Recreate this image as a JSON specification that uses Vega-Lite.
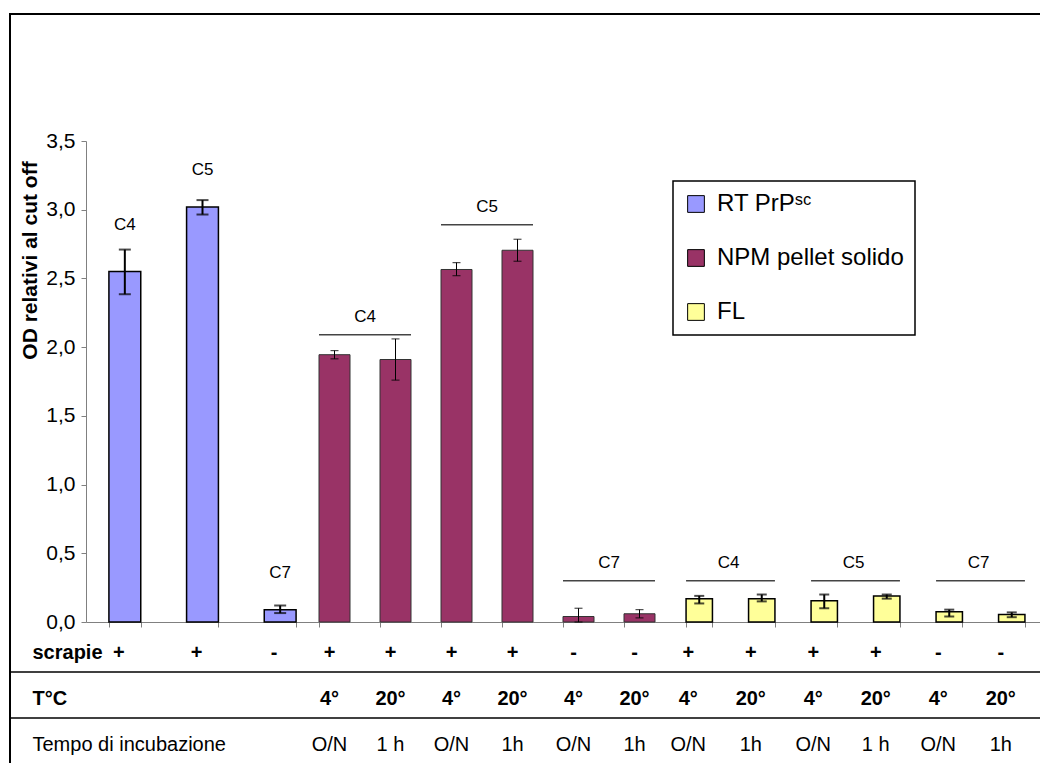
{
  "$schema": "https://vega.github.io/schema/vega-lite/v6.json",
  "width": 1031,
  "height": 750,
  "autosize": {"type": "none"},
  "padding": {"left": 10, "top": 14, "right": -1, "bottom": -1},
  "background": "white",
  "config": {
    "view": {"stroke": "black", "strokeWidth": 2},
    "font": "Liberation Sans",
    "axis": {"grid": false, "domainColor": "#808080", "tickColor": "#808080", "labelColor": "black", "titleColor": "black"},
    "legend": {
      "strokeColor": "black", "strokeWidth": 1.5, "fillColor": "white", "padding": 11,
      "symbolType": "square", "symbolSize": 280, "symbolStrokeColor": "black", "symbolStrokeWidth": 1,
      "labelFont": "Liberation Sans", "labelFontSize": 24, "labelColor": "black", "labelLimit": 400,
      "rowPadding": 30, "labelOffset": 9
    }
  },
  "datasets": {
    "bars": [
      {"col": 1, "series": "RT PrPˢᶜ", "value": 2.55, "lo": 2.385, "hi": 2.71, "scrapie": "+", "temp": "", "tempo": ""},
      {"col": 2, "series": "RT PrPˢᶜ", "value": 3.02, "lo": 2.965, "hi": 3.07, "scrapie": "+", "temp": "", "tempo": ""},
      {"col": 3, "series": "RT PrPˢᶜ", "value": 0.09, "lo": 0.065, "hi": 0.12, "scrapie": "-", "temp": "", "tempo": ""},
      {"col": 4, "series": "NPM pellet solido", "value": 1.945, "lo": 1.915, "hi": 1.975, "scrapie": "+", "temp": "4°", "tempo": "O/N"},
      {"col": 5, "series": "NPM pellet solido", "value": 1.91, "lo": 1.76, "hi": 2.06, "scrapie": "+", "temp": "20°", "tempo": "1 h"},
      {"col": 6, "series": "NPM pellet solido", "value": 2.565, "lo": 2.52, "hi": 2.615, "scrapie": "+", "temp": "4°", "tempo": "O/N"},
      {"col": 7, "series": "NPM pellet solido", "value": 2.705, "lo": 2.625, "hi": 2.785, "scrapie": "+", "temp": "20°", "tempo": "1h"},
      {"col": 8, "series": "NPM pellet solido", "value": 0.04, "lo": 0.0, "hi": 0.1, "scrapie": "-", "temp": "4°", "tempo": "O/N"},
      {"col": 9, "series": "NPM pellet solido", "value": 0.06, "lo": 0.03, "hi": 0.09, "scrapie": "-", "temp": "20°", "tempo": "1h"},
      {"col": 10, "series": "FL", "value": 0.17, "lo": 0.135, "hi": 0.19, "scrapie": "+", "temp": "4°", "tempo": "O/N"},
      {"col": 11, "series": "FL", "value": 0.17, "lo": 0.15, "hi": 0.2, "scrapie": "+", "temp": "20°", "tempo": "1h"},
      {"col": 12, "series": "FL", "value": 0.155, "lo": 0.1, "hi": 0.2, "scrapie": "+", "temp": "4°", "tempo": "O/N"},
      {"col": 13, "series": "FL", "value": 0.19, "lo": 0.17, "hi": 0.2, "scrapie": "+", "temp": "20°", "tempo": "1 h"},
      {"col": 14, "series": "FL", "value": 0.075, "lo": 0.04, "hi": 0.09, "scrapie": "-", "temp": "4°", "tempo": "O/N"},
      {"col": 15, "series": "FL", "value": 0.055, "lo": 0.035, "hi": 0.07, "scrapie": "-", "temp": "20°", "tempo": "1h"}
    ],
    "groups": [
      {"series": "RT PrPˢᶜ", "a": 1, "b": 1, "label": "C4", "ly": 2.89},
      {"series": "RT PrPˢᶜ", "a": 2, "b": 2, "label": "C5", "ly": 3.29},
      {"series": "RT PrPˢᶜ", "a": 3, "b": 3, "label": "C7", "ly": 0.36},
      {"series": "NPM pellet solido", "a": 4, "b": 5, "label": "C4", "ly": 2.09},
      {"series": "NPM pellet solido", "a": 6, "b": 7, "label": "C5", "ly": 2.89},
      {"series": "NPM pellet solido", "a": 8, "b": 9, "label": "C7", "ly": 0.3},
      {"series": "FL", "a": 10, "b": 11, "label": "C4", "ly": 0.3},
      {"series": "FL", "a": 12, "b": 13, "label": "C5", "ly": 0.3},
      {"series": "FL", "a": 14, "b": 15, "label": "C7", "ly": 0.3}
    ],
    "tableLines": [{"row": "temp"}, {"row": "tempo"}]
  },
  "layer": [
    {
      "data": {"name": "bars"},
      "transform": [{"filter": "datum.series === 'RT PrPˢᶜ'"}],
      "mark": {"type": "bar", "stroke": "black", "strokeWidth": 1.5},
      "encoding": {
        "x": {"field": "col", "type": "ordinal", "scale": {"type": "band", "domain": [1, 2, 3], "range": [76, 309], "paddingInner": 0.59, "paddingOuter": 0.295},
          "axis": {"orient": "bottom", "offset": -142, "labels": false, "tickBand": "extent", "tickSize": 5, "title": null}},
        "y": {"field": "value", "type": "quantitative", "scale": {"domain": [0, 3.5], "range": [608, 127], "nice": false},
          "axis": {"orient": "left", "offset": -76, "values": [0, 0.5, 1, 1.5, 2, 2.5, 3, 3.5],
            "labelExpr": "replace(format(datum.value, '.1f'), '.', ',')",
            "tickSize": 5, "labelPadding": 6, "labelFont": "Liberation Sans", "labelFontSize": 21,
            "title": "OD relativi al cut off", "titleFont": "Liberation Sans", "titleFontSize": 21, "titleFontWeight": "bold",
            "titlePadding": 5, "titleY": 246}},
        "color": {"field": "series", "type": "nominal",
          "scale": {"domain": ["RT PrPˢᶜ", "NPM pellet solido", "FL"], "range": ["#9999FF", "#993366", "#FFFF99"]},
          "legend": {"title": null, "orient": "none", "legendX": 663, "legendY": 167}}
      }
    },
    {
      "data": {"name": "bars"},
      "transform": [{"filter": "datum.series === 'RT PrPˢᶜ'"}],
      "mark": {"type": "rule", "color": "black", "strokeWidth": 2},
      "encoding": {
        "x": {"field": "col", "type": "ordinal", "scale": {"type": "band", "domain": [1, 2, 3], "range": [76, 309], "paddingInner": 0.59, "paddingOuter": 0.295}, "axis": null},
        "y": {"field": "lo", "type": "quantitative", "scale": {"domain": [0, 3.5], "range": [608, 127], "nice": false}, "axis": null},
        "y2": {"field": "hi"}
      }
    },
    {
      "data": {"name": "bars"},
      "transform": [{"filter": "datum.series === 'RT PrPˢᶜ'"}, {"fold": ["lo", "hi"], "as": ["end", "v"]}],
      "mark": {"type": "tick", "color": "black", "thickness": 2, "size": 12},
      "encoding": {
        "x": {"field": "col", "type": "ordinal", "scale": {"type": "band", "domain": [1, 2, 3], "range": [76, 309], "paddingInner": 0.59, "paddingOuter": 0.295}, "axis": null},
        "y": {"field": "v", "type": "quantitative", "scale": {"domain": [0, 3.5], "range": [608, 127], "nice": false}, "axis": null}
      }
    },
    {
      "data": {"name": "groups"},
      "transform": [{"filter": "datum.series === 'RT PrPˢᶜ'"}],
      "mark": {"type": "text", "fontSize": 17, "color": "black"},
      "encoding": {
        "x": {"field": "a", "type": "ordinal", "scale": {"type": "band", "domain": [1, 2, 3], "range": [76, 309], "paddingInner": 0.59, "paddingOuter": 0.295}, "axis": null},
        "y": {"field": "ly", "type": "quantitative", "scale": {"domain": [0, 3.5], "range": [608, 127], "nice": false}, "axis": null},
        "text": {"field": "label"}
      }
    },
    {
      "data": {"name": "bars"},
      "transform": [{"filter": "datum.series === 'RT PrPˢᶜ'"}, {"fold": ["scrapie"], "as": ["row", "txt"]}],
      "mark": {"type": "text", "fontSize": 20, "fontWeight": "bold", "color": "black", "xOffset": -6},
      "encoding": {
        "x": {"field": "col", "type": "ordinal", "scale": {"type": "band", "domain": [1, 2, 3], "range": [76, 309], "paddingInner": 0.59, "paddingOuter": 0.295}, "axis": null},
        "y": {"field": "row", "type": "nominal", "scale": {"type": "band", "domain": ["scrapie", "temp", "tempo"], "range": [616, 754], "paddingInner": 0, "paddingOuter": 0}, "axis": null},
        "text": {"field": "txt"}
      }
    },
    {
      "data": {"name": "bars"},
      "transform": [{"filter": "datum.series === 'NPM pellet solido'"}],
      "mark": {"type": "bar", "stroke": "#333333", "strokeWidth": 1},
      "encoding": {
        "x": {"field": "col", "type": "ordinal", "scale": {"type": "band", "domain": [4, 5, 6, 7, 8, 9], "range": [309, 675], "paddingInner": 0.4918, "paddingOuter": 0.2459, "align": 0},
          "axis": {"orient": "bottom", "offset": -142, "labels": false, "bandPosition": 0, "tickSize": 5, "title": null}},
        "y": {"field": "value", "type": "quantitative", "scale": {"domain": [0, 3.5], "range": [608, 127], "nice": false}, "axis": null},
        "color": {"field": "series", "type": "nominal",
          "scale": {"domain": ["RT PrPˢᶜ", "NPM pellet solido", "FL"], "range": ["#9999FF", "#993366", "#FFFF99"]},
          "legend": {"title": null, "orient": "none", "legendX": 663, "legendY": 167}}
      }
    },
    {
      "data": {"name": "bars"},
      "transform": [{"filter": "datum.series === 'NPM pellet solido'"}],
      "mark": {"type": "rule", "color": "black", "strokeWidth": 1},
      "encoding": {
        "x": {"field": "col", "type": "ordinal", "scale": {"type": "band", "domain": [4, 5, 6, 7, 8, 9], "range": [309, 675], "paddingInner": 0.4918, "paddingOuter": 0.2459, "align": 0}, "axis": null},
        "y": {"field": "lo", "type": "quantitative", "scale": {"domain": [0, 3.5], "range": [608, 127], "nice": false}, "axis": null},
        "y2": {"field": "hi"}
      }
    },
    {
      "data": {"name": "bars"},
      "transform": [{"filter": "datum.series === 'NPM pellet solido'"}, {"fold": ["lo", "hi"], "as": ["end", "v"]}],
      "mark": {"type": "tick", "color": "black", "thickness": 1.2, "size": 8},
      "encoding": {
        "x": {"field": "col", "type": "ordinal", "scale": {"type": "band", "domain": [4, 5, 6, 7, 8, 9], "range": [309, 675], "paddingInner": 0.4918, "paddingOuter": 0.2459, "align": 0}, "axis": null},
        "y": {"field": "v", "type": "quantitative", "scale": {"domain": [0, 3.5], "range": [608, 127], "nice": false}, "axis": null}
      }
    },
    {
      "data": {"name": "groups"},
      "transform": [{"filter": "datum.series === 'NPM pellet solido'"}],
      "mark": {"type": "rule", "color": "#444444", "strokeWidth": 1.5},
      "encoding": {
        "x": {"field": "a", "type": "ordinal", "bandPosition": 0, "scale": {"type": "band", "domain": [4, 5, 6, 7, 8, 9], "range": [309, 675], "paddingInner": 0.4918, "paddingOuter": 0.2459, "align": 0}, "axis": null},
        "x2": {"field": "b", "bandPosition": 1},
        "y": {"field": "ly", "type": "quantitative", "scale": {"domain": [0, 3.5], "range": [608, 127], "nice": false}, "axis": null}
      }
    },
    {
      "data": {"name": "groups"},
      "transform": [{"filter": "datum.series === 'NPM pellet solido'"}],
      "mark": {"type": "text", "fontSize": 17, "color": "black", "dy": -18, "xOffset": -15},
      "encoding": {
        "x": {"field": "b", "type": "ordinal", "bandPosition": 0, "scale": {"type": "band", "domain": [4, 5, 6, 7, 8, 9], "range": [309, 675], "paddingInner": 0.4918, "paddingOuter": 0.2459, "align": 0}, "axis": null},
        "y": {"field": "ly", "type": "quantitative", "scale": {"domain": [0, 3.5], "range": [608, 127], "nice": false}, "axis": null},
        "text": {"field": "label"}
      }
    },
    {
      "data": {"name": "bars"},
      "transform": [{"filter": "datum.series === 'NPM pellet solido'"}, {"fold": ["scrapie", "temp"], "as": ["row", "txt"]}],
      "mark": {"type": "text", "fontSize": 20, "fontWeight": "bold", "color": "black", "xOffset": -5},
      "encoding": {
        "x": {"field": "col", "type": "ordinal", "scale": {"type": "band", "domain": [4, 5, 6, 7, 8, 9], "range": [309, 675], "paddingInner": 0.4918, "paddingOuter": 0.2459, "align": 0}, "axis": null},
        "y": {"field": "row", "type": "nominal", "scale": {"type": "band", "domain": ["scrapie", "temp", "tempo"], "range": [616, 754], "paddingInner": 0, "paddingOuter": 0}, "axis": null},
        "text": {"field": "txt"}
      }
    },
    {
      "data": {"name": "bars"},
      "transform": [{"filter": "datum.series === 'NPM pellet solido'"}, {"fold": ["tempo"], "as": ["row", "txt"]}],
      "mark": {"type": "text", "fontSize": 20, "color": "black", "xOffset": -5},
      "encoding": {
        "x": {"field": "col", "type": "ordinal", "scale": {"type": "band", "domain": [4, 5, 6, 7, 8, 9], "range": [309, 675], "paddingInner": 0.4918, "paddingOuter": 0.2459, "align": 0}, "axis": null},
        "y": {"field": "row", "type": "nominal", "scale": {"type": "band", "domain": ["scrapie", "temp", "tempo"], "range": [616, 754], "paddingInner": 0, "paddingOuter": 0}, "axis": null},
        "text": {"field": "txt"}
      }
    },
    {
      "data": {"name": "bars"},
      "transform": [{"filter": "datum.series === 'FL'"}],
      "mark": {"type": "bar", "stroke": "black", "strokeWidth": 1.5},
      "encoding": {
        "x": {"field": "col", "type": "ordinal", "scale": {"type": "band", "domain": [10, 11, 12, 13, 14, 15], "range": [658, 1033], "paddingInner": 0.578, "paddingOuter": 0.289},
          "axis": {"orient": "bottom", "offset": -142, "labels": false, "tickBand": "extent", "tickSize": 5, "title": null}},
        "y": {"field": "value", "type": "quantitative", "scale": {"domain": [0, 3.5], "range": [608, 127], "nice": false}, "axis": null},
        "color": {"field": "series", "type": "nominal",
          "scale": {"domain": ["RT PrPˢᶜ", "NPM pellet solido", "FL"], "range": ["#9999FF", "#993366", "#FFFF99"]},
          "legend": {"title": null, "orient": "none", "legendX": 663, "legendY": 167}}
      }
    },
    {
      "data": {"name": "bars"},
      "transform": [{"filter": "datum.series === 'FL'"}],
      "mark": {"type": "rule", "color": "black", "strokeWidth": 2},
      "encoding": {
        "x": {"field": "col", "type": "ordinal", "scale": {"type": "band", "domain": [10, 11, 12, 13, 14, 15], "range": [658, 1033], "paddingInner": 0.578, "paddingOuter": 0.289}, "axis": null},
        "y": {"field": "lo", "type": "quantitative", "scale": {"domain": [0, 3.5], "range": [608, 127], "nice": false}, "axis": null},
        "y2": {"field": "hi"}
      }
    },
    {
      "data": {"name": "bars"},
      "transform": [{"filter": "datum.series === 'FL'"}, {"fold": ["lo", "hi"], "as": ["end", "v"]}],
      "mark": {"type": "tick", "color": "black", "thickness": 2, "size": 10},
      "encoding": {
        "x": {"field": "col", "type": "ordinal", "scale": {"type": "band", "domain": [10, 11, 12, 13, 14, 15], "range": [658, 1033], "paddingInner": 0.578, "paddingOuter": 0.289}, "axis": null},
        "y": {"field": "v", "type": "quantitative", "scale": {"domain": [0, 3.5], "range": [608, 127], "nice": false}, "axis": null}
      }
    },
    {
      "data": {"name": "groups"},
      "transform": [{"filter": "datum.series === 'FL'"}],
      "mark": {"type": "rule", "color": "#444444", "strokeWidth": 1.5},
      "encoding": {
        "x": {"field": "a", "type": "ordinal", "bandPosition": 0, "scale": {"type": "band", "domain": [10, 11, 12, 13, 14, 15], "range": [658, 1033], "paddingInner": 0.578, "paddingOuter": 0.289}, "axis": null},
        "x2": {"field": "b", "bandPosition": 1},
        "y": {"field": "ly", "type": "quantitative", "scale": {"domain": [0, 3.5], "range": [608, 127], "nice": false}, "axis": null}
      }
    },
    {
      "data": {"name": "groups"},
      "transform": [{"filter": "datum.series === 'FL'"}],
      "mark": {"type": "text", "fontSize": 17, "color": "black", "dy": -18, "xOffset": -20},
      "encoding": {
        "x": {"field": "b", "type": "ordinal", "bandPosition": 0, "scale": {"type": "band", "domain": [10, 11, 12, 13, 14, 15], "range": [658, 1033], "paddingInner": 0.578, "paddingOuter": 0.289}, "axis": null},
        "y": {"field": "ly", "type": "quantitative", "scale": {"domain": [0, 3.5], "range": [608, 127], "nice": false}, "axis": null},
        "text": {"field": "label"}
      }
    },
    {
      "data": {"name": "bars"},
      "transform": [{"filter": "datum.series === 'FL'"}, {"fold": ["scrapie", "temp"], "as": ["row", "txt"]}],
      "mark": {"type": "text", "fontSize": 20, "fontWeight": "bold", "color": "black", "xOffset": -11},
      "encoding": {
        "x": {"field": "col", "type": "ordinal", "scale": {"type": "band", "domain": [10, 11, 12, 13, 14, 15], "range": [658, 1033], "paddingInner": 0.578, "paddingOuter": 0.289}, "axis": null},
        "y": {"field": "row", "type": "nominal", "scale": {"type": "band", "domain": ["scrapie", "temp", "tempo"], "range": [616, 754], "paddingInner": 0, "paddingOuter": 0}, "axis": null},
        "text": {"field": "txt"}
      }
    },
    {
      "data": {"name": "bars"},
      "transform": [{"filter": "datum.series === 'FL'"}, {"fold": ["tempo"], "as": ["row", "txt"]}],
      "mark": {"type": "text", "fontSize": 20, "color": "black", "xOffset": -11},
      "encoding": {
        "x": {"field": "col", "type": "ordinal", "scale": {"type": "band", "domain": [10, 11, 12, 13, 14, 15], "range": [658, 1033], "paddingInner": 0.578, "paddingOuter": 0.289}, "axis": null},
        "y": {"field": "row", "type": "nominal", "scale": {"type": "band", "domain": ["scrapie", "temp", "tempo"], "range": [616, 754], "paddingInner": 0, "paddingOuter": 0}, "axis": null},
        "text": {"field": "txt"}
      }
    },
    {
      "data": {"name": "tableLines"},
      "mark": {"type": "rule", "color": "black", "strokeWidth": 1.5, "yOffset": -4},
      "encoding": {
        "y": {"field": "row", "type": "nominal", "bandPosition": 0,
          "scale": {"type": "band", "domain": ["scrapie", "temp", "tempo"], "range": [616, 754], "paddingInner": 0, "paddingOuter": 0},
          "axis": {"orient": "left", "domain": false, "ticks": false, "tickSize": 0, "labelAlign": "left", "labelPadding": -22,
            "labelFontSize": 20, "labelLimit": 400, "title": null,
            "labelFontWeight": {"condition": {"test": "datum.value === 'tempo'", "value": "normal"}, "value": "bold"},
            "labelExpr": "datum.value === 'scrapie' ? 'scrapie' : datum.value === 'temp' ? 'T°C' : 'Tempo di incubazione'"}}
      }
    }
  ],
  "resolve": {"scale": {"x": "independent", "y": "independent"}}
}
